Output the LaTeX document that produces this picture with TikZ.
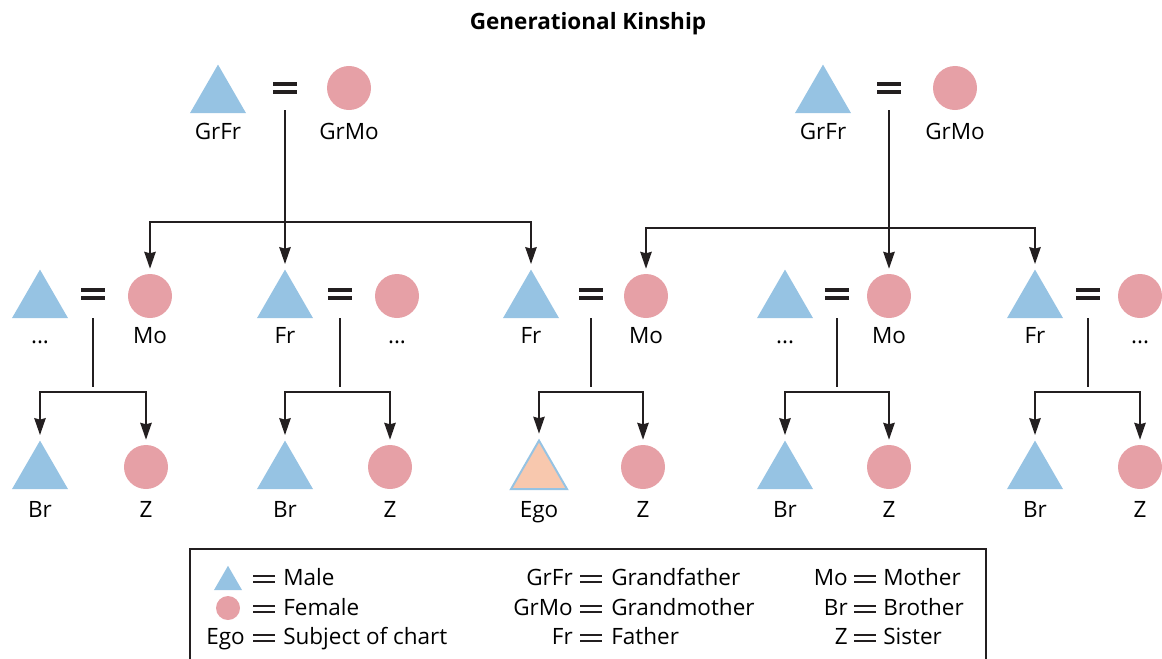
\documentclass[tikz,border=0pt]{standalone}
\usepackage{fontspec}
\setmainfont{Open Sans}
\usepackage{xcolor}
\usepackage{tikz}
\usetikzlibrary{arrows.meta,shapes.geometric}
\definecolor{maleblue}{HTML}{96C3E3}
\definecolor{femalepink}{HTML}{E6A0A6}
\definecolor{egopeach}{HTML}{F8C8AE}
\definecolor{inkdark}{HTML}{231F20}

\begin{document}
\begin{tikzpicture}[x=0.025cm, y=-0.025cm,
      male/.style={regular polygon, regular polygon sides=3, fill=maleblue,
        inner sep=0pt, minimum size=1.62cm},
      female/.style={circle, fill=femalepink, inner sep=0pt, minimum size=1.1cm},
      ego/.style={male, fill=egopeach, draw=maleblue, line width=1.4pt},
      eqsign/.style n args={3}{rectangle, inner sep=0pt, outer sep=0pt,
        minimum width=#1, minimum height=#2,
        path picture={
          \fill[inkdark] (path picture bounding box.north west) rectangle
            ([yshift=-#3]path picture bounding box.north east);
          \fill[inkdark] (path picture bounding box.south west) rectangle
            ([yshift=#3]path picture bounding box.south east);}},
      bigeq/.style={eqsign={0.62cm}{0.32cm}{0.1cm}},
      keyeq/.style={eqsign={0.55cm}{0.22cm}{0.055cm}},
      lbl/.style={font=\fontsize{16}{16}\selectfont, inner sep=0pt, anchor=base},
      link/.style={line width=1.7pt, draw=inkdark, shorten >=3.5pt},
      >={Stealth[length=12pt,width=8pt,inset=1pt]}]
    \useasboundingbox (0,0) rectangle (1162,658);
    \node[font=\fontsize{16}{16}\selectfont\bfseries, anchor=base] (title) at (588,29)
      {Generational Kinship};

    % grandparents
    \node[male] (gfL) at (218,97) {};
    \node[bigeq] (eqL) at (285,88) {};
    \node[female] (gmL) at (349,88) {};
    \node[lbl] (gfLt) at (218,139) {GrFr};
    \node[lbl] (gmLt) at (349,139) {GrMo};
    \node[male] (gfR) at (823,97) {};
    \node[bigeq] (eqR) at (889,88) {};
    \node[female] (gmR) at (955,88) {};
    \node[lbl] (gfRt) at (823,139) {GrFr};
    \node[lbl] (gmRt) at (955,139) {GrMo};

    % parents
    \node[male] (pmA) at (40,302) {};
    \node[bigeq] (eqA) at (93,294) {};
    \node[female] (moA) at (150,296) {};
    \node[lbl] (pmAt) at (40,343) {...};
    \node[lbl] (moAt) at (150,343) {Mo};
    \node[male] (frB) at (285,302) {};
    \node[bigeq] (eqB) at (340,294) {};
    \node[female] (pfB) at (397,296) {};
    \node[lbl] (frBt) at (285,343) {Fr};
    \node[lbl] (pfBt) at (397,343) {...};
    \node[male] (frC) at (531,302) {};
    \node[bigeq] (eqC) at (591,294) {};
    \node[female] (moC) at (646,296) {};
    \node[lbl] (frCt) at (531,343) {Fr};
    \node[lbl] (moCt) at (646,343) {Mo};
    \node[male] (pmD) at (785,302) {};
    \node[bigeq] (eqD) at (837,294) {};
    \node[female] (moD) at (889,296) {};
    \node[lbl] (pmDt) at (785,343) {...};
    \node[lbl] (moDt) at (889,343) {Mo};
    \node[male] (frE) at (1035,302) {};
    \node[bigeq] (eqE) at (1088,294) {};
    \node[female] (pfE) at (1140,296) {};
    \node[lbl] (frEt) at (1035,343) {Fr};
    \node[lbl] (pfEt) at (1140,343) {...};

    % children
    \node[male] (brA) at (40,473) {};
    \node[female] (zA) at (146,467) {};
    \node[lbl] (brAt) at (40,517) {Br};
    \node[lbl] (zAt) at (146,517) {Z};
    \node[male] (brB) at (285,473) {};
    \node[female] (zB) at (390,467) {};
    \node[lbl] (brBt) at (285,517) {Br};
    \node[lbl] (zBt) at (390,517) {Z};
    \node[ego] (ego) at (539,473) {};
    \node[female] (zC) at (643,467) {};
    \node[lbl] (egot) at (539,517) {Ego};
    \node[lbl] (zCt) at (643,517) {Z};
    \node[male] (brD) at (785,473) {};
    \node[female] (zD) at (889,467) {};
    \node[lbl] (brDt) at (785,517) {Br};
    \node[lbl] (zDt) at (889,517) {Z};
    \node[male] (brE) at (1035,473) {};
    \node[female] (zE) at (1140,467) {};
    \node[lbl] (brEt) at (1035,517) {Br};
    \node[lbl] (zEt) at (1140,517) {Z};

    % descent lines
    \coordinate (dL) at (285,110);
    \coordinate (jL) at (285,222);
    \draw[link,->] (dL) -- (frB);
    \draw[link,->] (jL) -| (moA);
    \draw[link,->] (jL) -| (frC);
    \coordinate (dR) at (889,110);
    \coordinate (jR) at (889,228);
    \draw[link,->] (dR) -- (moD);
    \draw[link,->] (jR) -| (moC);
    \draw[link,->] (jR) -| (frE);

    \coordinate (dA) at (93,318);
    \coordinate (kA) at (93,392);
    \draw[link] (dA) -- (kA);
    \draw[link,->] (kA) -| (brA);
    \draw[link,->] (kA) -| (zA);
    \coordinate (dB) at (340,318);
    \coordinate (kB) at (340,392);
    \draw[link] (dB) -- (kB);
    \draw[link,->] (kB) -| (brB);
    \draw[link,->] (kB) -| (zB);
    \coordinate (dC) at (591,318);
    \coordinate (kC) at (591,392);
    \draw[link] (dC) -- (kC);
    \draw[link,->] (kC) -| (ego);
    \draw[link,->] (kC) -| (zC);
    \coordinate (dD) at (837,318);
    \coordinate (kD) at (837,392);
    \draw[link] (dD) -- (kD);
    \draw[link,->] (kD) -| (brD);
    \draw[link,->] (kD) -| (zD);
    \coordinate (dE) at (1088,318);
    \coordinate (kE) at (1088,392);
    \draw[link] (dE) -- (kE);
    \draw[link,->] (kE) -| (brE);
    \draw[link,->] (kE) -| (zE);

    % legend
    \coordinate (lgA) at (190,670);
    \coordinate (lgB) at (190,549);
    \coordinate (lgC) at (986,549);
    \coordinate (lgD) at (986,670);
    \draw[line width=1.8pt, inkdark] (lgA) -- (lgB) -- (lgC) -- (lgD);
    \node[male, minimum size=0.81cm] (keyM) at (228,582) {};
    \node[female, minimum size=0.6cm] (keyF) at (228,608) {};
    \node[lbl, anchor=base east] (keyE) at (245,644) {Ego};
    \foreach \y/\v in {585/Male, 615/Female, 644/Subject of chart} {
      \node[keyeq] (eq\y) at (264,\y-6) {};
      \node[lbl, anchor=base west] (val\y) at (283,\y) {\v};
    }
    \foreach \k/\v/\y in {GrFr/Grandfather/585, GrMo/Grandmother/615, Fr/Father/644} {
      \node[lbl, anchor=base east] (key\k) at (573,\y) {\k};
      \node[keyeq] (eqk\k) at (591,\y-6) {};
      \node[lbl, anchor=base west] (val\k) at (611,\y) {\v};
    }
    \foreach \k/\v/\y in {Mo/Mother/585, Br/Brother/615, Z/Sister/644} {
      \node[lbl, anchor=base east] (key\k) at (848,\y) {\k};
      \node[keyeq] (eqk\k) at (865,\y-6) {};
      \node[lbl, anchor=base west] (val\k) at (883,\y) {\v};
    }
  \end{tikzpicture}
\end{document}
